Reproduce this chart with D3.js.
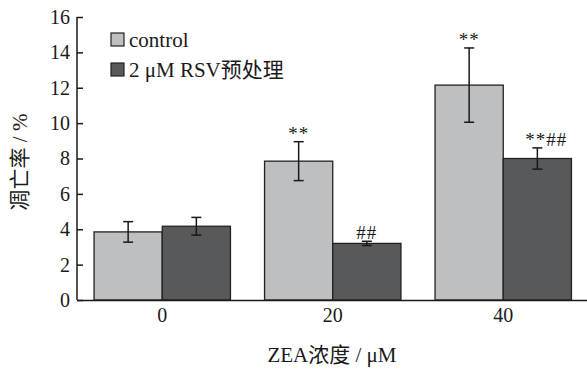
<!DOCTYPE html>
<html lang="zh">
<head>
<meta charset="utf-8">
<title>凋亡率</title>
<style>
  body { margin: 0; background: #fff; }
  svg text { font-family: "Liberation Serif", "Noto Sans CJK SC", serif; fill: #1a1a1a; }
</style>
</head>
<body>
<svg id="chart" width="587" height="370"></svg>
<script src="https://d3js.org/d3.v7.min.js"></script>
<script>
  // data
  var doses = ["0", "20", "40"];
  var series = ["control", "2 μM RSV预处理"];
  var controlMean = [3.85, 7.85, 12.15];
  var controlErr = [0.58, 1.1, 2.1];
  var rsvMean = [4.17, 3.2, 8.0];
  var rsvErr = [0.5, 0.12, 0.6];
  var controlMark = ["", "**", "**"];
  var rsvMark = ["", "##", "**##"];
  var yTicks = [0, 2, 4, 6, 8, 10, 12, 14, 16];

  var colors = ["#bebfc1", "#58595b"];

  var rows = [];
  doses.forEach(function(d, i) {
    rows.push({dose: d, s: 0, mean: controlMean[i], err: controlErr[i], mark: controlMark[i]});
    rows.push({dose: d, s: 1, mean: rsvMean[i], err: rsvErr[i], mark: rsvMark[i]});
  });

  var svg = d3.select("#chart");
  var mLeft = 77, mTop = 17, mBottom = 300, mRight = 588.5;

  var y = d3.scaleLinear().domain([0, 16]).range([mBottom, mTop]);
  var x0 = d3.scaleBand().domain(doses).range([mLeft, mRight]).padding(0);
  var x1 = d3.scaleBand().domain([0, 1])
    .range([x0.bandwidth() * 0.1, x0.bandwidth() * 0.9]).padding(0);

  // bars
  svg.append("g").selectAll("rect")
    .data(rows).enter().append("rect")
      .attr("x", d => x0(d.dose) + x1(d.s))
      .attr("y", d => y(d.mean))
      .attr("width", x1.bandwidth())
      .attr("height", d => y(0) - y(d.mean))
      .attr("fill", d => colors[d.s])
      .attr("stroke", "#222")
      .attr("stroke-width", 1.3);

  // error bars
  var eb = svg.append("g").attr("stroke", "#1a1a1a").attr("stroke-width", 1.5)
    .selectAll("g").data(rows).enter().append("g");
  var cx = d => x0(d.dose) + x1(d.s) + x1.bandwidth() / 2;
  eb.append("line")
    .attr("x1", cx).attr("x2", cx)
    .attr("y1", d => y(d.mean + d.err)).attr("y2", d => y(d.mean - d.err));
  eb.append("line")
    .attr("x1", d => cx(d) - 5).attr("x2", d => cx(d) + 5)
    .attr("y1", d => y(d.mean + d.err)).attr("y2", d => y(d.mean + d.err));
  eb.append("line")
    .attr("x1", d => cx(d) - 5).attr("x2", d => cx(d) + 5)
    .attr("y1", d => y(d.mean - d.err)).attr("y2", d => y(d.mean - d.err));

  // significance marks
  svg.append("g").selectAll("text")
    .data(rows.filter(d => d.mark)).enter().append("text")
      .attr("x", d => cx(d) + (d.mark === "**##" ? 9 : 0))
      .attr("y", d => y(d.mean + d.err) - 2)
      .attr("text-anchor", "middle")
      .style("font-size", "19px")
      .style("letter-spacing", "1px")
      .text(d => d.mark);

  // y axis
  var yAxis = d3.axisLeft(y).tickValues(yTicks).tickSize(-6).tickPadding(7);
  var gy = svg.append("g").attr("transform", "translate(" + mLeft + ",0)").call(yAxis);
  gy.select(".domain").attr("stroke", "#1a1a1a").attr("stroke-width", 1.5).attr("d", "M0," + mTop + "V" + mBottom);
  gy.selectAll(".tick line").attr("stroke", "#1a1a1a").attr("stroke-width", 1.5);
  gy.selectAll(".tick text").style("font-size", "20px").style("font-family", "Liberation Serif");

  // x axis
  var xAxis = d3.axisBottom(x0).tickSize(0).tickPadding(8);
  var gx = svg.append("g").attr("transform", "translate(0," + mBottom + ")").call(xAxis);
  gx.select(".domain").attr("stroke", "#1a1a1a").attr("stroke-width", 1.5);
  gx.selectAll(".tick text").style("font-size", "20px").style("font-family", "Liberation Serif");

  // axis titles
  svg.append("text")
    .attr("x", 332).attr("y", 362)
    .attr("text-anchor", "middle")
    .style("font-size", "21px")
    .text("ZEA浓度 / μM");
  svg.append("text")
    .attr("transform", "translate(27,162) rotate(-90)")
    .attr("text-anchor", "middle")
    .style("font-size", "21px")
    .text("凋亡率 / %");

  // legend
  var lg = svg.append("g").selectAll("g")
    .data(series).enter().append("g")
      .attr("transform", (d, i) => "translate(111," + (33 + i * 30) + ")");
  lg.append("rect")
    .attr("width", 13).attr("height", 13)
    .attr("fill", (d, i) => colors[i])
    .attr("stroke", "#222").attr("stroke-width", 1.2);
  lg.append("text")
    .attr("x", 18).attr("y", 13.5)
    .style("font-size", "21px")
    .text(d => d);
</script>
</body>
</html>
